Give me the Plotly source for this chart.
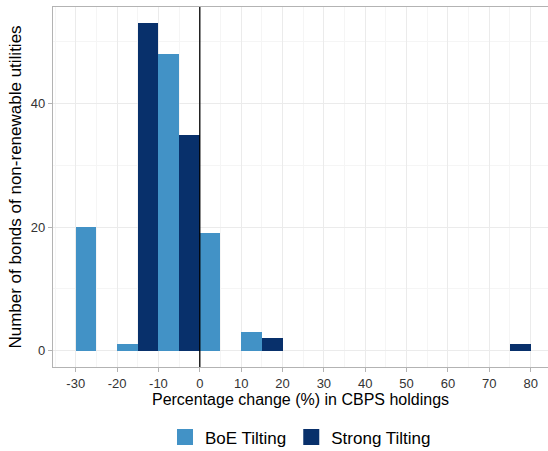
import plotly.graph_objects as go

# Histogram bins of width 10 (centres) and bond counts per tilting scheme
bin_centres = [-25, -15, -5, 5, 15, 25, 35, 45, 55, 65, 75]
boe_counts = [20, 1, 48, 19, 3, 0, 0, 0, 0, 0, 0]
strong_counts = [0, 53, 35, 0, 2, 0, 0, 0, 0, 0, 1]
x_ticks = [-30, -20, -10, 0, 10, 20, 30, 40, 50, 60, 70, 80]
y_ticks = [0, 20, 40]
series_names = ["BoE Tilting", "Strong Tilting"]
series_colours = ["#4292c6", "#08306b"]

FONT = "Liberation Sans, Arial, sans-serif"

fig = go.Figure()
for name, counts, colour in zip(series_names, [boe_counts, strong_counts], series_colours):
    fig.add_trace(go.Bar(x=bin_centres, y=counts, name=name, legendgroup=name,
                         showlegend=False,
                         marker=dict(color=colour, line=dict(width=0))))
# square legend keys
for name, colour in zip(series_names, series_colours):
    fig.add_trace(go.Scatter(x=[None], y=[None], mode="markers", name=name,
                             legendgroup=name,
                             marker=dict(symbol="square", size=16, color=colour)))

# reference line at zero change
fig.add_shape(type="line", x0=0, x1=0, y0=0, y1=1, xref="x", yref="paper",
              line=dict(color="black", width=1.3))

fig.update_layout(
    width=548, height=451,
    margin=dict(l=53, r=0, t=7, b=84),
    barmode="group", bargap=0, bargroupgap=0,
    plot_bgcolor="white", paper_bgcolor="white",
    font=dict(family=FONT, color="black"),
    showlegend=True,
    legend=dict(orientation="h", xanchor="center", x=0.5, xref="paper",
                yref="container", y=0.03, yanchor="middle",
                font=dict(size=17, color="black"), itemwidth=30,
                itemsizing="trace", traceorder="normal"),
)

fig.update_xaxes(
    range=[-35.5, 84.2], tickvals=x_ticks, ticktext=[str(v) for v in x_ticks],
    showgrid=True, gridcolor="#ebebeb", gridwidth=1,
    minor=dict(dtick=5, tick0=0, showgrid=True, gridcolor="#f5f5f5", gridwidth=1),
    showline=True, linecolor="#b3b3b3", linewidth=1.2, mirror=True,
    ticks="outside", ticklen=4, tickcolor="#b3b3b3",
    tickfont=dict(size=13, color="#333333"),
    zeroline=False,
    title=dict(text="Percentage change (%) in CBPS holdings",
               font=dict(size=16, color="black"), standoff=3),
)
fig.update_yaxes(
    range=[-2.65, 55.65], tickvals=y_ticks,
    showgrid=True, gridcolor="#ebebeb", gridwidth=1,
    minor=dict(tickvals=[10, 30, 50], showgrid=True, gridcolor="#f5f5f5", gridwidth=1),
    showline=True, linecolor="#b3b3b3", linewidth=1.2, mirror=True,
    ticks="outside", ticklen=4, tickcolor="#b3b3b3",
    tickfont=dict(size=13, color="#333333"),
    zeroline=False,
    title=dict(text="Number of bonds of non-renewable utilities",
               font=dict(size=17, color="black"), standoff=4),
)

fig.write_html("out.html")
